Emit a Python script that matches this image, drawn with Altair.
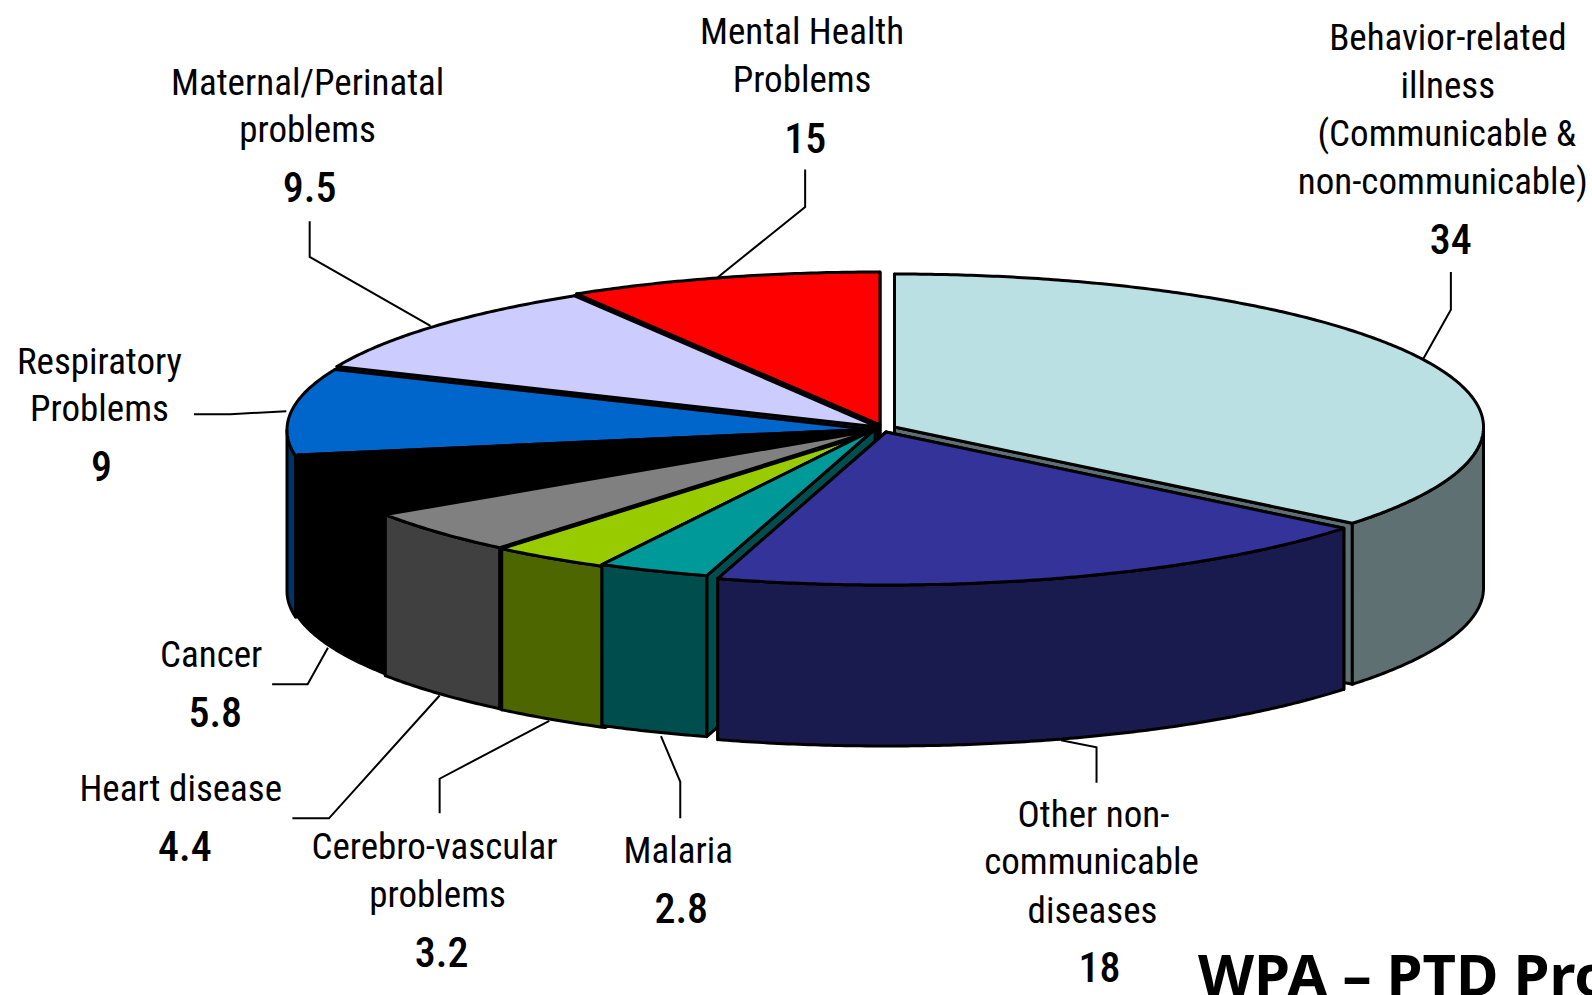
import numpy as np
import altair as alt

# ---- data ----
categories = ["Behavior-related illness", "Other non-communicable diseases", "Malaria",
              "Cerebro-vascular problems", "Heart disease", "Cancer",
              "Respiratory Problems", "Maternal/Perinatal problems", "Mental Health Problems"]
printed_values = ["34", "18", "2.8", "3.2", "4.4", "5.8", "9", "9.5", "15"]
# share of the circle that each slice really occupies in the drawing
drawn_shares = [35.83, 18.78, 3.06, 3.36, 4.64, 6.61, 9.19, 9.92, 8.61]
top_colors = ["#BBE0E3", "#333399", "#009999", "#99CC00", "#808080", "#000000", "#0066CC", "#CCCCFF", "#FF0000"]
wall_colors = ["#5E7072", "#191A4D", "#004D4D", "#4D6600", "#404040", "#000000", "#003366", "#666680", "#800000"]

label_lines = [
    ["Behavior-related", "illness", "(Communicable &", "non-communicable)"],
    ["Other non-", "communicable", "diseases"],
    ["Malaria"],
    ["Cerebro-vascular", "problems"],
    ["Heart disease"],
    ["Cancer"],
    ["Respiratory", "Problems"],
    ["Maternal/Perinatal", "problems"],
    ["Mental Health", "Problems"],
]

# ---- layout (reference pixels) ----
S = 1592 / 1568
M = 8
RX, RY, DEPTH = 589, 153, 161
apex = [(894.5, 427), (886, 432), (875, 429), (878, 431), (876, 430),
        (878, 429), (876, 430), (878, 427), (880, 425)]
paint_order = [8, 7, 6, 5, 4, 3, 2, 0, 1]
label_pos = [
    [(1426, 37), (1426, 84), (1425, 131), (1421, 179)],
    [(1077, 802), (1075, 849), (1076, 897)],
    [(668, 838)],
    [(428, 834), (431, 881)],
    [(178, 777)],
    [(208, 645)],
    [(98, 356), (98, 402)],
    [(303, 81), (303, 128)],
    [(790, 31), (790, 78)],
]
value_pos = [(1429, 236), (1083, 953), (671, 895), (435, 938), (182, 834),
             (212, 702), (100, 459), (305, 185), (793, 136)]
leaders = [
    [(1429, 268), (1429, 305), (1402, 353)],
    [(1080, 771), (1080, 736), (1045, 729)],
    [(670, 806), (670, 770), (651, 725)],
    [(433, 801), (433, 767), (541, 710)],
    [(288, 806), (324, 806), (433, 685)],
    [(268, 674), (303, 674), (323, 638)],
    [(191, 408), (227, 408), (282, 405)],
    [(305, 218), (305, 253), (424, 321)],
    [(793, 167), (793, 204), (707, 273)],
]
title_text = "WPA – PTD Pro"
TEXT_DROP = 1.5

# ---- geometry computed from the shares ----
total = sum(drawn_shares)
edges = np.cumsum([0] + drawn_shares) / total * 2 * np.pi


def P(x, y):
    return [float(x - M), float(y - M)]


def rim(i, a, drop=0.0):
    ax, ay = apex[i]
    return ax + RX * np.sin(a), ay - RY * np.cos(a) + drop


def feature(points, fill):
    pts = [P(*p) for p in points]
    pts.append(pts[0])
    return {"type": "Feature", "properties": {"fill": fill},
            "geometry": {"type": "Polygon", "coordinates": [pts]}}


features = []
for i in paint_order:
    a0, a1 = edges[i], edges[i + 1]
    ax, ay = apex[i]
    cuts = (a1, a0) if a0 >= np.pi else (a0, a1)
    for a in cuts:
        features.append(feature([(ax, ay), rim(i, a), rim(i, a, DEPTH), (ax, ay + DEPTH)], wall_colors[i]))
    lo, hi = max(a0, np.pi / 2), min(a1, 3 * np.pi / 2)
    if hi > lo:
        arc = np.linspace(lo, hi, max(3, int(np.degrees(hi - lo) * 2)))
        features.append(feature([rim(i, a) for a in arc] + [rim(i, a, DEPTH) for a in arc[::-1]], wall_colors[i]))
    arc = np.linspace(a0, a1, max(3, int(np.degrees(a1 - a0) * 2)))
    features.append(feature([(ax, ay)] + [rim(i, a) for a in arc], top_colors[i]))

leader_features = [
    {"type": "Feature", "properties": {"name": categories[i]},
     "geometry": {"type": "LineString",
                  "coordinates": [P(x * S, y * S) for x, y in line]}}
    for i, line in enumerate(leaders)
]

labels = []
for lines, places in zip(label_lines, label_pos):
    for t, (x, y) in zip(lines, places):
        labels.append({"t": t, "lon": x * S - M, "lat": y * S - M + TEXT_DROP})
values = [{"t": t, "lon": x * S - M, "lat": y * S - M + TEXT_DROP} for t, (x, y) in zip(printed_values, value_pos)]
title = [{"t": title_text, "lon": 1198 - M, "lat": 996 - M}]

proj = dict(type="identity", scale=1, translate=[0, 0])


def geo_data(feats):
    return alt.InlineData(values={"type": "FeatureCollection", "features": feats},
                          format=alt.DataFormat(property="features", type="json"))


lines_layer = alt.Chart(geo_data(leader_features)).mark_geoshape(
    filled=False, stroke="black", strokeWidth=2).project(**proj)
solid_layer = alt.Chart(geo_data(features)).mark_geoshape(
    stroke="black", strokeWidth=3, strokeJoin="round").encode(
    fill=alt.Color("properties.fill:N", scale=None, legend=None)).project(**proj)


def text_layer(rows, **kw):
    return alt.Chart(alt.Data(values=rows)).mark_text(color="black", **kw).encode(
        longitude="lon:Q", latitude="lat:Q", text="t:N").project(**proj)


chart = alt.layer(
    lines_layer,
    solid_layer,
    text_layer(labels, font="Roboto Condensed", fontSize=37, align="center", baseline="middle"),
    text_layer(values, font="Roboto Condensed", fontSize=42, fontWeight=500, align="center", baseline="middle"),
    text_layer(title, font="Noto Sans", fontSize=58, fontWeight="bold", align="left", baseline="alphabetic"),
).properties(width=1584, height=987, padding=0, autosize=alt.AutoSizeParams(type="none"),
             background="white").configure_view(stroke=None)

chart.save("out.html", embed_options={"renderer": "svg", "actions": False,
                                      "defaultStyle": "body{margin:8px 0 0 8px} .vega-embed{display:block} svg{display:block}"})
